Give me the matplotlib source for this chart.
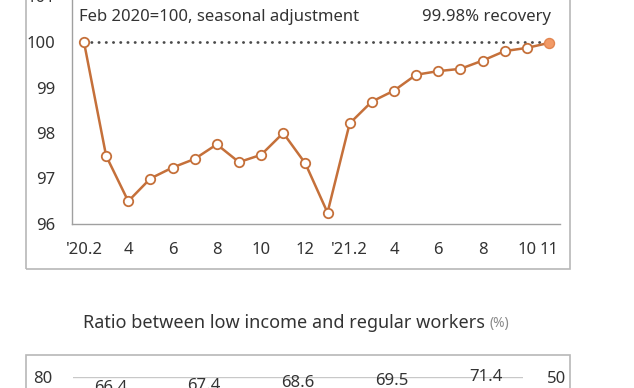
import matplotlib

matplotlib.use("Agg")
import matplotlib.pyplot as plt
from matplotlib.patches import Rectangle

# top panel: employment index, Feb 2020 = 100
months = ["'20.2", "3", "4", "5", "6", "7", "8", "9", "10", "11", "12", "'21.1",
          "'21.2", "3", "4", "5", "6", "7", "8", "9", "10", "11"]
index_vals = [100.0, 97.5, 96.5, 97.0, 97.24, 97.43, 97.75, 97.36, 97.52, 98.0,
              97.33, 96.25, 98.21, 98.69, 98.93, 99.28, 99.36, 99.41, 99.59,
              99.8, 99.87, 99.98]
shown_ticks = ["'20.2", "4", "6", "8", "10", "12", "'21.2", "4", "6", "8", "10", "11"]
shown_idx = [0, 2, 4, 6, 8, 10, 12, 14, 16, 18, 20, 21]
y_ticks = [96, 97, 98, 99, 100, 101]

# bottom panel (only the top strip is visible)
ratio_vals = [66.4, 67.4, 68.6, 69.5, 71.4]
left_top_tick = 80
right_top_tick = 50

W, H = 634, 388
plt.rcParams["font.family"] = ["Noto Sans", "DejaVu Sans"]
TXT = "#333333"
ORANGE = "#c5703a"
FRAME = "#b8b8b8"

fig = plt.figure(figsize=(W / 100, H / 100), dpi=100)


def fx(px):
    return px / W


def fy(py):
    return 1 - py / H


# frames around each panel
fig.patches.append(Rectangle((fx(26), fy(269)), fx(570 - 26), 1.0,
                             transform=fig.transFigure, fill=False,
                             edgecolor=FRAME, linewidth=1.2, zorder=0))
fig.patches.append(Rectangle((fx(26), fy(600)), fx(570 - 26), fy(355) - fy(600),
                             transform=fig.transFigure, fill=False,
                             edgecolor=FRAME, linewidth=1.2, zorder=0))

# ---- top chart
ax = fig.add_axes([fx(72), fy(224), fx(560 - 72), fy(-3.5) - fy(224)])
x = list(range(len(index_vals)))
ax.hlines(100, 0, len(index_vals) - 1, colors="#4a4a4a", linewidth=2.0,
          linestyles=(0, (0.1, 2.5)), capstyle="round", zorder=1)
ax.plot(x[:-1], index_vals[:-1], color=ORANGE, linewidth=1.8, marker="o",
        markersize=6.8, markerfacecolor="white", markeredgecolor=ORANGE,
        markeredgewidth=1.3, zorder=3)
ax.plot(x[-2:], index_vals[-2:], color=ORANGE, linewidth=1.8, zorder=2)
ax.plot(x[-1], index_vals[-1], marker="o", markersize=7.2, color="#f29a66",
        markeredgecolor="#e28550", markeredgewidth=1.0, zorder=4)
ax.set_xlim(-0.54, 21.5)
ax.set_ylim(96, 101)
ax.set_yticks(y_ticks)
ax.set_xticks(shown_idx)
ax.set_xticklabels(shown_ticks)
ax.tick_params(length=0, labelsize=12, colors=TXT)
ax.tick_params(axis="y", pad=12)
ax.tick_params(axis="x", pad=13)
for s in ["top", "right"]:
    ax.spines[s].set_visible(False)
for s in ["left", "bottom"]:
    ax.spines[s].set_color("#a0a0a0")
    ax.spines[s].set_linewidth(1.0)
ax.set_facecolor("none")

fig.text(fx(79), fy(17), "Feb 2020=100, seasonal adjustment", fontsize=12,
         color=TXT, va="center", ha="left")
fig.text(fx(551), fy(17), "99.98% recovery", fontsize=12, color=TXT,
         va="center", ha="right")

# ---- bottom chart title
t = fig.text(fx(298), fy(323), "Ratio between low income and regular workers ",
             fontsize=13, color=TXT, va="center", ha="center")
fig.canvas.draw()
bb = t.get_window_extent()
t.set_x((bb.x0 - 12) / W)
t.set_ha("left")
fig.text((bb.x1 - 12) / W, fy(323), "(%)", fontsize=10, color="#8a8a8a",
         va="center", ha="left")

# ---- bottom chart (top strip)
ax2 = fig.add_axes([fx(73), fy(627), fx(523 - 73), fy(377) - fy(627)])
ax2.set_ylim(0, left_top_tick)
ax2.set_yticks([left_top_tick])
ax2.set_xlim(-0.4, len(ratio_vals) - 0.6)
ax2.set_xticks([])
ax2.grid(axis="y", color="#c8c8c8", linewidth=1.0)
ax2.tick_params(length=0, labelsize=12, colors=TXT, pad=15)
for s in ax2.spines.values():
    s.set_visible(False)
ax2.set_facecolor("none")

ax2r = ax2.twinx()
ax2r.set_ylim(0, right_top_tick)
ax2r.set_yticks([right_top_tick])
ax2r.tick_params(length=0, labelsize=12, colors=TXT, pad=17)
for s in ax2r.spines.values():
    s.set_visible(False)

ax3 = fig.add_axes(ax2.get_position())
ax3.set_xlim(ax2.get_xlim())
ax3.set_ylim(71.4 - 250 / 2.3, 71.4)
ax3.axis("off")
for i, v in enumerate(ratio_vals):
    ax3.text(i, v, f"{v:.1f}", fontsize=12, color=TXT, ha="center",
             va="center")

fig.savefig("out.png", dpi=100)
